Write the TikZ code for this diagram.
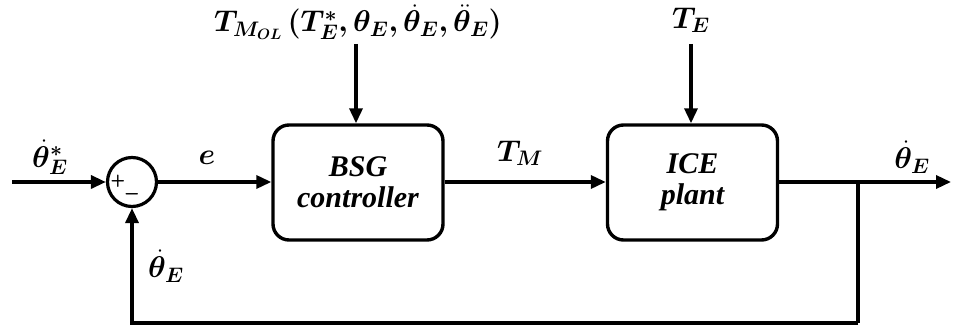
\RequirePackage{fix-cm}
\documentclass[tikz,border=0pt]{standalone}
\usepackage{amsmath}
\usepackage{bm}
\usepackage{fontspec}
\setmainfont{Liberation Serif}
\usetikzlibrary{arrows.meta}
\tikzset{
  blk/.style={draw, rounded corners=16pt, line width=3.4pt, minimum width=170pt, minimum height=115pt, align=center, font=\fontsize{30}{31}\selectfont\bfseries\itshape},
  sumnode/.style={draw, circle, line width=3.2pt, minimum size=49pt, inner sep=0pt},
  lbl/.style={font=\fontsize{30}{32}\selectfont, inner sep=0pt},
  sgn/.style={font=\sffamily\bfseries\fontsize{17}{18}\selectfont, inner sep=0pt},
  wire/.style={line width=3.4pt},
  arr/.style={wire, -{Triangle[length=15pt,width=13pt]}}
}
\begin{document}
\begin{tikzpicture}[x=1pt,y=-1pt]
\useasboundingbox (0,0) rectangle (953,328);
\node[sumnode] (sum) at (132,182) {};
\node[sgn] (plus) at (118,181) {+};
\node[sgn] (minus) at (132,196) {\textminus};
\node[blk] (bsg) at (358,182.5) {BSG\\controller};
\node[blk] (ice) at (692.5,182.5) {ICE\\plant};
\coordinate (in) at (12,182);
\coordinate (out) at (951,182);
\coordinate (br) at (858,182);
\coordinate (bl) at (858,323);
\coordinate (blb) at (132,323);
\coordinate (t1) at (356,44);
\coordinate (t2) at (691,44);
\draw[arr] (in) -- (sum.west);
\draw[arr] (sum.east) -- (sum.east -| bsg.west);
\draw[arr] (sum.east -| bsg.east) -- (sum.east -| ice.west);
\draw[arr] (sum.east -| ice.east) -- (out);
\draw[wire] (br) -- (bl);
\draw[arr] (bl) -- (blb) -- (sum.south);
\draw[arr] (t1) -- (t1 |- bsg.north);
\draw[arr] (t2) -- (t2 |- ice.north);
\node[lbl] (l1) at (50,157) {$\bm{\dot{\theta}_{E}^{*}}$};
\node[lbl] (l2) at (207,158) {$\bm{e}$};
\node[lbl] (l3) at (520,153) {$\bm{T_{M}}$};
\node[lbl] (l4) at (912,157) {$\bm{\dot{\theta}_{E}}$};
\node[lbl] (l5) at (166,266) {$\bm{\dot{\theta}_{E}}$};
\node[lbl] (l6) at (358,22) {$\bm{T_{M_{OL}}\,(T_{E}^{*},\theta_{E},\dot{\theta}_{E},\ddot{\theta}_{E})}$};
\node[lbl] (l7) at (691,20) {$\bm{T_{E}}$};
\end{tikzpicture}
\end{document}
